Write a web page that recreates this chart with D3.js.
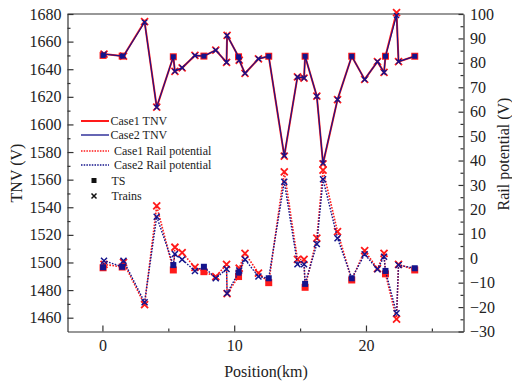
<!DOCTYPE html>
<html>
<head>
<meta charset="utf-8">
<script src="https://cdn.jsdelivr.net/npm/d3@7"></script>
</head>
<body style="margin:0">
<svg id="chart" width="512" height="385"></svg>
<script>
// ---- data ----
const positions = [0.05, 0.12, 1.50, 1.60, 3.20, 4.12, 5.38, 5.50, 6.05, 7.02, 7.70, 8.60, 9.42, 9.46,
  10.33, 10.38, 10.82, 11.84, 12.62, 13.80, 14.80, 15.30, 15.38, 16.27, 16.74, 17.84, 18.92,
  19.90, 20.87, 21.37, 21.48, 22.32, 22.47, 23.70];
const kinds = ["TS","Train","TS","Train","Train","Train","TS","Train","Train","Train","TS","Train","Train","Train",
  "TS","Train","Train","Train","TS","Train","Train","Train","TS","Train","Train","Train","TS",
  "Train","Train","Train","TS","Train","Train","TS"];
const tnvCase1 = [1650, 1651, 1649.5, 1649.5, 1674.5, 1612.5, 1649, 1638.5, 1641, 1650, 1649.5, 1653.8, 1645, 1664.5,
  1649, 1646.5, 1637, 1647.5, 1649.4, 1577, 1634.4, 1633.6, 1649.4, 1620.5, 1571.5, 1618, 1649.4,
  1632.6, 1645.5, 1637.7, 1649.4, 1681, 1645.5, 1649.4];
const tnvCase2 = [1650, 1651, 1649.5, 1649.5, 1674, 1612.5, 1649, 1638.5, 1641, 1650, 1649.5, 1653.8, 1645, 1664.5,
  1649, 1646.5, 1637, 1647.5, 1649.4, 1577.5, 1634.4, 1633.6, 1649.4, 1620.5, 1572, 1618, 1649.4,
  1632.6, 1645.5, 1637.7, 1649.4, 1679, 1645.5, 1649.4];
const railCase1 = [-3.9, -2.5, -3.6, -1.7, -19.0, 21.4, -4.8, 4.5, 2.3, -3.7, -5.5, -7.5, -2.5, -14.5,
  -7.5, -4.1, 2.0, -6.1, -10.0, 35.4, -0.5, -0.5, -11.9, 8.2, 36.1, 10.9, -8.9,
  3.1, -4.3, 2.0, -6.4, -24.9, -2.5, -4.8];
const railCase2 = [-3.7, -1.0, -3.5, -1.0, -18.0, 17.0, -2.8, 1.7, -0.5, -5.2, -3.5, -8.2, -4.4, -14.3,
  -5.9, -5.0, -0.5, -7.5, -8.2, 31.3, -2.5, -2.5, -10.5, 5.8, 32.3, 8.2, -8.2,
  1.6, -4.5, 0.6, -5.2, -22.5, -2.8, -4.1];
const xTicks = [0, 10, 20];
const xMinorTicks = [5, 15, 25];
const leftTicks = [1460, 1480, 1500, 1520, 1540, 1560, 1580, 1600, 1620, 1640, 1660, 1680];
const leftMinorTicks = [1470, 1490, 1510, 1530, 1550, 1570, 1590, 1610, 1630, 1650, 1670];
const rightTicks = [-30, -20, -10, 0, 10, 20, 30, 40, 50, 60, 70, 80, 90, 100];
const rightMinorTicks = [-25, -15, -5, 5, 15, 25, 35, 45, 55, 65, 75, 85, 95];
const legendLabels = ["Case1 TNV", "Case2 TNV", "Case1 Rail potential", "Case2 Rail potential", "TS", "Trains"];

// ---- layout ----
const L = 67.5, R = 463.5, T = 14, B = 331.5;
const RED = "#ff1a1a", BLUE = "#14148c", AXIS = "#333", TXT = "#222";
const FONT = "'Liberation Serif', 'Times New Roman', 'Nimbus Roman', FreeSerif";

const svg = d3.select("#chart");
const x = d3.scaleLinear().domain([-2.65, 27.4]).range([L, R]);
const yL = d3.scaleLinear().domain([1450, 1680]).range([B, T]);
const yR = d3.scaleLinear().domain([-30, 100]).range([B, T]);

function setFont(sel, size) {
  sel.attr("font-family", FONT).attr("font-size", size)
    .style("font-family", FONT).style("font-size", size + "px").attr("fill", TXT);
}
function styleAxis(g) {
  g.attr("font-family", FONT).attr("font-size", 16);
  g.selectAll("path, line").attr("stroke", AXIS).attr("stroke-width", 1.2);
  g.selectAll("text").call(setFont, 16);
}

// axes
svg.append("g").attr("transform", `translate(0,${B})`)
  .call(d3.axisBottom(x).tickValues(xTicks).tickSize(-6).tickSizeOuter(0).tickPadding(8).tickFormat(d3.format("d")))
  .call(styleAxis);
svg.append("g").attr("transform", `translate(0,${B})`)
  .call(d3.axisBottom(x).tickValues(xMinorTicks).tickSize(-3).tickSizeOuter(0).tickFormat(""))
  .call(styleAxis).select(".domain").remove();
svg.append("g").attr("transform", `translate(${L},0)`)
  .call(d3.axisLeft(yL).tickValues(leftTicks).tickSize(-6).tickSizeOuter(0).tickPadding(6).tickFormat(d3.format("d")))
  .call(styleAxis);
svg.append("g").attr("transform", `translate(${L},0)`)
  .call(d3.axisLeft(yL).tickValues(leftMinorTicks).tickSize(-3).tickSizeOuter(0).tickFormat(""))
  .call(styleAxis).select(".domain").remove();
svg.append("g").attr("transform", `translate(${R},0)`)
  .call(d3.axisRight(yR).tickValues(rightTicks).tickSize(-5).tickSizeOuter(0).tickPadding(6.5).tickFormat(d3.format("d")))
  .call(styleAxis);
svg.append("g").attr("transform", `translate(${R},0)`)
  .call(d3.axisRight(yR).tickValues(rightMinorTicks).tickSize(-3).tickSizeOuter(0).tickFormat(""))
  .call(styleAxis).select(".domain").remove();
// top frame
svg.append("line").attr("x1", L).attr("x2", R).attr("y1", T).attr("y2", T)
  .attr("stroke", AXIS).attr("stroke-width", 1.2);

// axis titles
const titles = svg.append("g");
titles.append("text").attr("x", 266).attr("y", 377).attr("text-anchor", "middle").call(setFont, 16).text("Position(km)");
titles.append("text").attr("transform", "translate(22,173) rotate(-90)").attr("text-anchor", "middle").call(setFont, 16).text("TNV (V)");
titles.append("text").attr("transform", "translate(509,154) rotate(-90)").attr("text-anchor", "middle").call(setFont, 16).text("Rail potential (V)");

// series helpers
function drawSeries(values, yScale, color, width, dash, mSize, mStroke) {
  const pts = positions.map((p, i) => ({ x: p, y: values[i], k: kinds[i] }));
  const line = d3.line().x(d => x(d.x)).y(d => yScale(d.y));
  svg.append("path").datum(pts).attr("d", line).attr("fill", "none")
    .attr("stroke", color).attr("stroke-width", width)
    .attr("stroke-dasharray", dash || null);
  const g = svg.append("g");
  pts.forEach(d => {
    const cx = x(d.x), cy = yScale(d.y);
    if (d.k === "TS") {
      g.append("rect").attr("x", cx - mSize / 2).attr("y", cy - mSize / 2)
        .attr("width", mSize).attr("height", mSize).attr("fill", color);
    } else {
      const h = mSize / 2;
      g.append("path").attr("d", `M${cx - h},${cy - h}L${cx + h},${cy + h}M${cx - h},${cy + h}L${cx + h},${cy - h}`)
        .attr("stroke", color).attr("stroke-width", mStroke).attr("fill", "none");
    }
  });
}

drawSeries(railCase1, yR, RED, 1.6, "1.6,1.4", 7, 1.8);
drawSeries(railCase2, yR, BLUE, 1.4, "1.6,1.4", 6, 1.5);
drawSeries(tnvCase1, yL, RED, 2, null, 7, 1.8);
drawSeries(tnvCase2, yL, BLUE, 1.1, null, 5, 1.4);

// legend
const rows = [121, 135, 151, 165, 180.5, 196];
const lg = svg.append("g");
const lineStyles = [
  { c: RED, w: 2, d: null }, { c: BLUE, w: 1.3, d: null },
  { c: RED, w: 1.4, d: "1.5,1.2" }, { c: BLUE, w: 1.4, d: "1.5,1.2" }
];
lineStyles.forEach((s, i) => {
  lg.append("line").attr("x1", 81).attr("x2", 109).attr("y1", rows[i]).attr("y2", rows[i])
    .attr("stroke", s.c).attr("stroke-width", s.w).attr("stroke-dasharray", s.d);
});
lg.append("rect").attr("x", 91.5).attr("y", rows[4] - 2.5).attr("width", 5).attr("height", 5).attr("fill", "#111");
lg.append("path").attr("d", `M91.5,${rows[5] - 2.5}L96.5,${rows[5] + 2.5}M91.5,${rows[5] + 2.5}L96.5,${rows[5] - 2.5}`)
  .attr("stroke", "#111").attr("stroke-width", 1.5);
const textX = [110.5, 110.5, 114, 114, 111.5, 111.5];
legendLabels.forEach((t, i) => {
  lg.append("text").attr("x", textX[i]).attr("y", rows[i] + 4).call(setFont, 12).text(t);
});
</script>
</body>
</html>
